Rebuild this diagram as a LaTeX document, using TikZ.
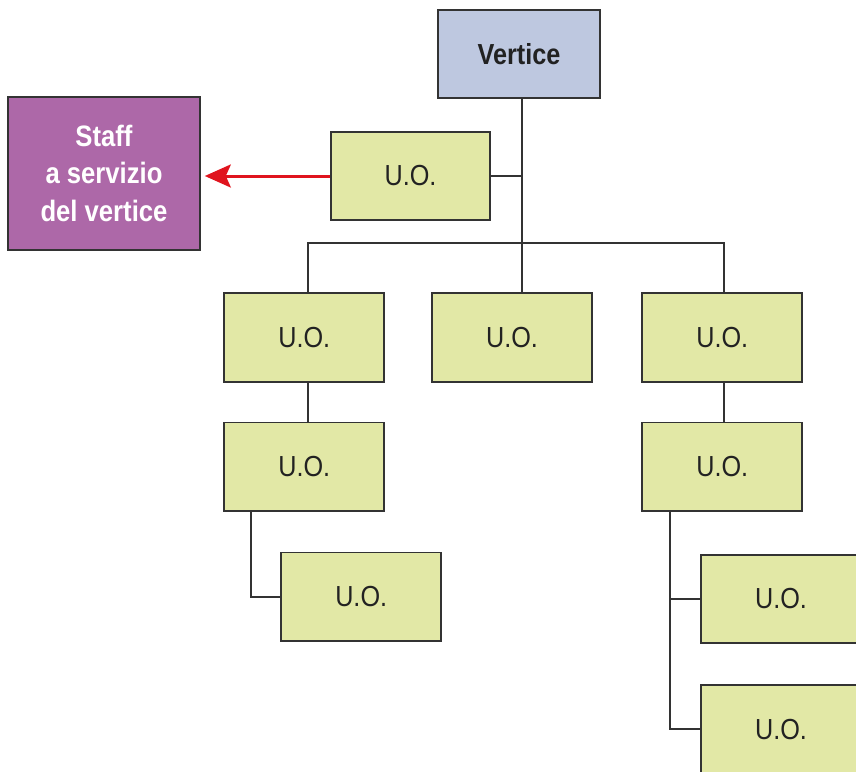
\documentclass[tikz,border=0pt]{standalone}
\usepackage{fontspec}
\setmainfont[FakeStretch=0.87]{Liberation Sans}
\usetikzlibrary{arrows.meta}
\definecolor{vblue}{HTML}{BEC8E0}
\definecolor{uogreen}{HTML}{E2E8A6}
\definecolor{staffpurple}{HTML}{AD68A8}
\definecolor{borderc}{HTML}{333333}
\definecolor{arrred}{HTML}{E0141E}
\definecolor{txtc}{HTML}{222222}
\begin{document}
\begin{tikzpicture}[x=1pt,y=-1pt,
  box/.style={draw=borderc,line width=1.9pt,rectangle,inner sep=0pt,anchor=center},
  uobox/.style={box,fill=uogreen,minimum width=160pt,minimum height=88.5pt,
     text=txtc,font=\fontsize{29}{34}\selectfont},
  link/.style={draw=borderc,line width=1.9pt},
  staffarrow/.style={draw=arrred,line width=3pt,
     -{Stealth[length=26pt,width=23pt,inset=5pt]},shorten >=4pt}]
\useasboundingbox (0,0) rectangle (856,771);
\clip (0,0) rectangle (856,771);
% nodes
\node[box,fill=vblue,minimum width=161.7pt,minimum height=88.3pt,
  font=\bfseries\fontsize{29}{34}\selectfont,text=txtc] (V) at (519,54) {Vertice};
\node[box,fill=staffpurple,minimum width=191.7pt,minimum height=153.3pt,
  font=\bfseries\fontsize{29.5}{37.5}\selectfont,text=white,align=center] (S) at (104,173.3)
  {Staff\\a servizio\\del vertice};
\node[uobox,minimum width=159pt,minimum height=88pt] (U0) at (410.5,176) {U.O.};
\node[uobox] (A) at (304.3,337.3) {U.O.};
\node[uobox] (B) at (512,337.3) {U.O.};
\node[uobox] (C) at (722.3,337.3) {U.O.};
\node[uobox] (A2) at (304.3,466.7) {U.O.};
\node[uobox] (C2) at (722.3,466.7) {U.O.};
\node[uobox] (A3) at (361.2,596.7) {U.O.};
\node[uobox] (C3) at (781,599) {U.O.};
\node[uobox] (C4) at (781,729.3) {U.O.};
% connector coordinates
\coordinate (t) at (521.7,243.3);
\coordinate (bl) at (308.3,243.3);
\coordinate (br) at (724.3,243.3);
\coordinate (lx) at (250.7,0);
\coordinate (rx) at (670,0);
% connectors
\draw[link] (t |- V.south) -- (t |- B.north);
\draw[link] (U0.east) -- (U0.east -| t);
\draw[link] (bl |- A.north) -- (bl) -- (br) -- (br |- C.north);
\draw[link] (bl |- A.south) -- (bl |- A2.north);
\draw[link] (br |- C.south) -- (br |- C2.north);
\draw[link] (lx |- A2.south) |- (A3.west);
\draw[link] (rx |- C2.south) |- (C4.west);
\draw[link] (rx |- C3.west) -- (C3.west);
\draw[staffarrow] (U0.west) -- (U0.west -| S.east);
\end{tikzpicture}
\end{document}
